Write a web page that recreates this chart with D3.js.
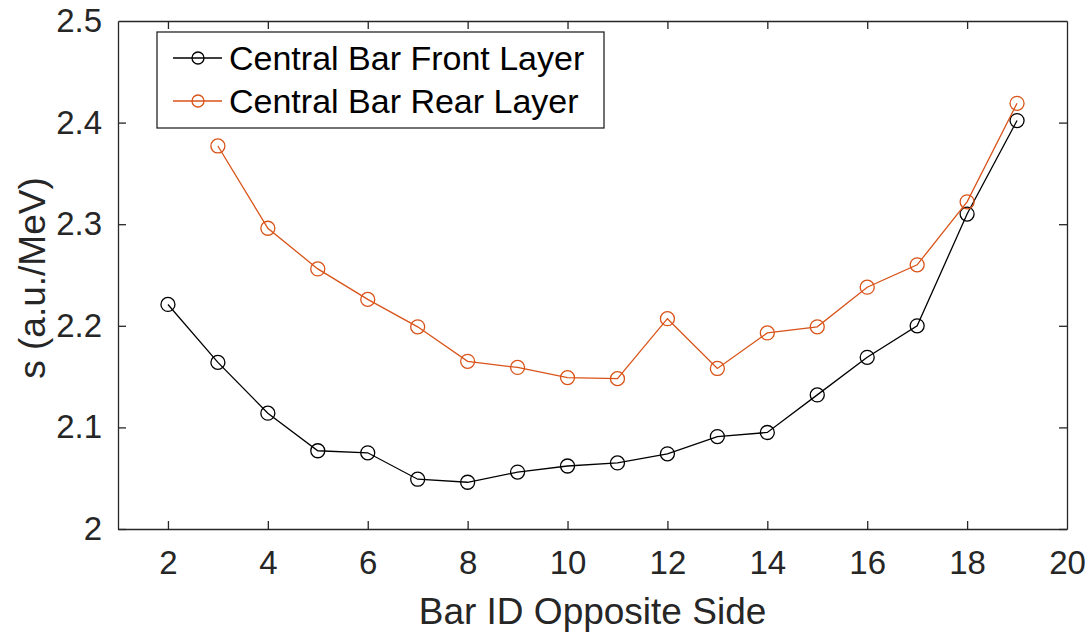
<!DOCTYPE html>
<html>
<head>
<meta charset="utf-8">
<script src="https://cdn.jsdelivr.net/npm/d3@7"></script>
<style>
  body { margin: 0; background: #fff; overflow: hidden; }
  svg { display: block; }
  .axis path, .axis line { stroke: #262626; stroke-width: 1.3; }
</style>
</head>
<body>
<svg id="chart"></svg>
<script>
const width = 1090;
const height = 633;

const margin = { top: 21, right: 23, bottom: 104, left: 118 };
const fontFamily = "Liberation Sans, Arial, sans-serif";

// donnees
const barIds = [2, 3, 4, 5, 6, 7, 8, 9, 10, 11, 12, 13, 14, 15, 16, 17, 18, 19];
const frontLayer = [2.221, 2.164, 2.114, 2.077, 2.075, 2.049, 2.046, 2.056, 2.062, 2.065,
  2.074, 2.091, 2.095, 2.132, 2.169, 2.200, 2.310, 2.402];
// la couche arriere commence a la barre 3
const rearIds = [3, 4, 5, 6, 7, 8, 9, 10, 11, 12, 13, 14, 15, 16, 17, 18, 19];
const rearLayer = [2.377, 2.296, 2.256, 2.226, 2.199, 2.165, 2.159, 2.149, 2.148, 2.207,
  2.158, 2.193, 2.199, 2.238, 2.260, 2.322, 2.419];

const xTicks = [2, 4, 6, 8, 10, 12, 14, 16, 18, 20];
const yTicks = [2, 2.1, 2.2, 2.3, 2.4, 2.5];

const seriesNames = ["Central Bar Front Layer", "Central Bar Rear Layer"];
const colors = ["#000000", "#D95319"];

const svg = d3.select("#chart")
  .attr("width", width)
  .attr("height", height)
  .attr("font-family", fontFamily);

const innerWidth = width - margin.left - margin.right;
const innerHeight = height - margin.top - margin.bottom;

const graph = svg.append("g")
  .attr("transform", `translate(${margin.left}, ${margin.top})`);

const xScale = d3.scaleLinear().domain([1, 20]).range([0, innerWidth]);
const yScale = d3.scaleLinear().domain([2, 2.5]).range([innerHeight, 0]);

// axes avec ticks vers l'interieur
graph.append("g")
  .attr("class", "axis")
  .attr("transform", `translate(0, ${innerHeight})`)
  .call(d3.axisBottom(xScale).tickValues(xTicks).tickSizeInner(-8).tickSizeOuter(0).tickPadding(22));

graph.append("g")
  .attr("class", "axis")
  .call(d3.axisLeft(yScale).tickValues(yTicks).tickFormat(d3.format("")).tickSizeInner(-8).tickSizeOuter(0).tickPadding(16));

graph.append("g")
  .attr("class", "axis no-labels")
  .call(d3.axisTop(xScale).tickValues(xTicks).tickSizeInner(-8).tickSizeOuter(0));

graph.append("g")
  .attr("class", "axis no-labels")
  .attr("transform", `translate(${innerWidth}, 0)`)
  .call(d3.axisRight(yScale).tickValues(yTicks).tickSizeInner(-8).tickSizeOuter(0));

// haut et droite : seulement les ticks
graph.selectAll(".no-labels text").remove();

graph.selectAll(".axis")
  .attr("font-size", 33)
  .attr("font-family", fontFamily);
graph.selectAll(".axis text").attr("fill", "#262626");

// pas de tick sur les bords
graph.selectAll(".axis .tick line")
  .filter(d => d === 20 || d === 2.5)
  .remove();

// courbes
const series = [
  { name: seriesNames[0], x: barIds, y: frontLayer, color: colors[0] },
  { name: seriesNames[1], x: rearIds, y: rearLayer, color: colors[1] }
];

const line = d3.line()
  .x(d => xScale(d[0]))
  .y(d => yScale(d[1]));

series.forEach(s => {
  const pts = s.x.map((x, i) => [x, s.y[i]]);
  graph.append("path")
    .datum(pts)
    .attr("fill", "none")
    .attr("stroke", s.color)
    .attr("stroke-width", 1.3)
    .attr("d", line);

  graph.selectAll(null)
    .data(pts)
    .enter()
    .append("circle")
    .attr("cx", d => xScale(d[0]))
    .attr("cy", d => yScale(d[1]))
    .attr("r", 7)
    .attr("fill", "none")
    .attr("stroke", s.color)
    .attr("stroke-width", 1.3);
});

// labels
svg.append("text")
  .attr("x", margin.left + innerWidth / 2)
  .attr("y", 624)
  .attr("text-anchor", "middle")
  .attr("font-size", 37)
  .attr("fill", "#262626")
  .text("Bar ID Opposite Side");

svg.append("text")
  .attr("transform", `translate(45, ${margin.top + innerHeight / 2 + 3}) rotate(-90)`)
  .attr("text-anchor", "middle")
  .attr("font-size", 37)
  .attr("fill", "#262626")
  .text("s (a.u./MeV)");

// legende
const legend = svg.append("g").attr("transform", "translate(157, 32)");
legend.append("rect")
  .attr("width", 447)
  .attr("height", 96)
  .attr("fill", "#fff")
  .attr("stroke", "#262626")
  .attr("stroke-width", 1.3);

series.forEach((s, i) => {
  const y = 26 + i * 43;
  legend.append("line")
    .attr("x1", 16).attr("x2", 65)
    .attr("y1", y).attr("y2", y)
    .attr("stroke", s.color)
    .attr("stroke-width", 1.3);
  legend.append("circle")
    .attr("cx", 41).attr("cy", y).attr("r", 6)
    .attr("fill", "none")
    .attr("stroke", s.color)
    .attr("stroke-width", 1.3);
  legend.append("text")
    .attr("x", 72)
    .attr("y", y + 12)
    .attr("font-size", 34)
    .attr("fill", "#000")
    .text(s.name);
});
</script>
</body>
</html>
